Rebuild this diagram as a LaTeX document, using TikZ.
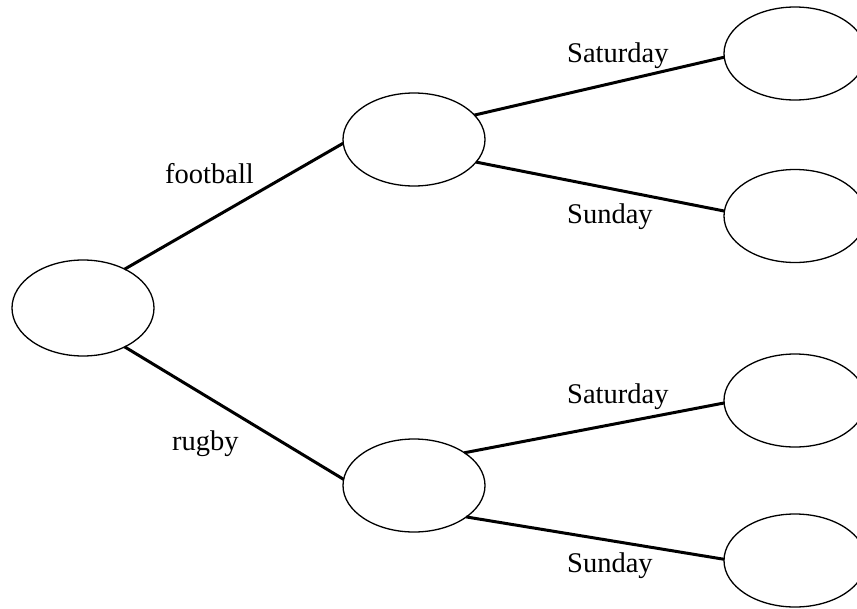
\documentclass[tikz,border=0pt]{standalone}
\usepackage{fontspec}
\setmainfont{Liberation Serif}
\usetikzlibrary{shapes.geometric}
\begin{document}
\begin{tikzpicture}[x=1pt,y=-1pt,
  oval/.style={draw=black, line width=1.3pt, ellipse, inner sep=0pt, outer sep=0pt,
               minimum width=142pt, minimum height=93pt},
  branch/.style={draw=black, line width=3pt},
  lbl/.style={anchor=base west, inner sep=0pt, font=\fontsize{28.5}{34}\selectfont}]
\clip (0,0) rectangle (857,608);
\fill[white] (0,0) rectangle (857,608);
% nodes
\node[oval, minimum height=96pt] (root) at (83,308) {};
\node[oval] (foot) at (414,139.5) {};
\node[oval] (rug) at (414,485.5) {};
\node[oval] (fsat) at (795,53.5) {};
\node[oval] (fsun) at (795,216) {};
\node[oval] (rsat) at (795,400.5) {};
\node[oval] (rsun) at (795,560.5) {};
% connectors
\draw[branch] (root.43.6) -- (foot.183);
\draw[branch] (root.-43) -- (rug.175.6);
\draw[branch] (foot.22.5) -- (fsat.183.6);
\draw[branch] (foot.-20) -- (fsun.176);
\draw[branch] (rug.33.6) -- (rsat.182);
\draw[branch] (rug.-31) -- (rsun.179);
% labels
\node[lbl] (lfoot) at (165,183) {football};
\node[lbl] (lrug) at (172,450) {rugby};
\node[lbl] (lfsat) at (567,62) {Saturday};
\node[lbl] (lfsun) at (567,223) {Sunday};
\node[lbl] (lrsat) at (567,403) {Saturday};
\node[lbl] (lrsun) at (567,572) {Sunday};
\end{tikzpicture}
\end{document}
